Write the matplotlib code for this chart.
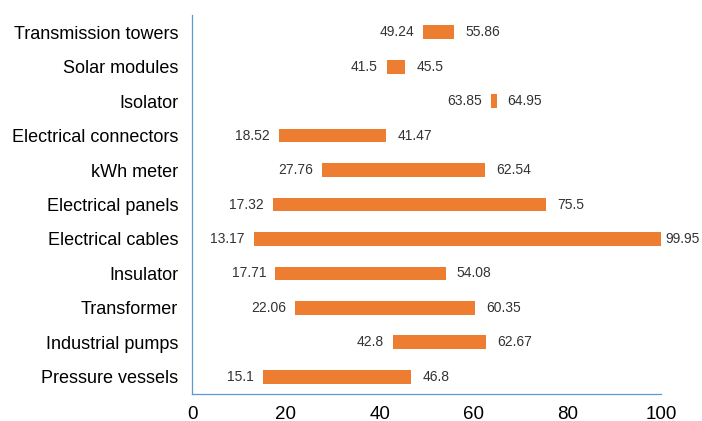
import matplotlib.pyplot as plt

categories = ['Pressure vessels', 'Industrial pumps', 'Transformer', 'Insulator',
              'Electrical cables', 'Electrical panels', 'kWh meter',
              'Electrical connectors', 'Isolator', 'Solar modules', 'Transmission towers']
low_values = [15.1, 42.8, 22.06, 17.71, 13.17, 17.32, 27.76, 18.52, 63.85, 41.5, 49.24]
high_values = [46.8, 62.67, 60.35, 54.08, 99.95, 75.5, 62.54, 41.47, 64.95, 45.5, 55.86]
low_labels = ['15.1', '42.8', '22.06', '17.71', '13.17', '17.32', '27.76', '18.52', '63.85', '41.5', '49.24']
high_labels = ['46.8', '62.67', '60.35', '54.08', '99.95', '75.5', '62.54', '41.47', '64.95', '45.5', '55.86']
x_ticks = [0, 20, 40, 60, 80, 100]

plt.rcParams['font.family'] = ['Liberation Sans', 'DejaVu Sans']

fig = plt.figure(figsize=(7.02, 4.21), dpi=100)
ax = fig.add_axes([192 / 702, 1 - 394 / 421, 469 / 702, 379 / 421])

ypos = list(range(len(categories)))
widths = [h - l for l, h in zip(low_values, high_values)]
ax.barh(ypos, widths, left=low_values, height=0.4, color='#ED7D31')

for y, lo, hi, ll, hl in zip(ypos, low_values, high_values, low_labels, high_labels):
    ax.annotate(ll, (lo, y), xytext=(-6.5, 0), textcoords='offset points',
                ha='right', va='center', fontsize=10, color='#333333')
    # label near the right edge is pulled in so it stays inside the figure
    off = 3 if hi > 95 else 8
    ax.annotate(hl, (hi, y), xytext=(off, 0), textcoords='offset points',
                ha='left', va='center', fontsize=10, color='#333333')

ax.set_xlim(0, 100)
ax.set_ylim(-0.5, len(categories) - 0.5)
ax.set_xticks(x_ticks)
ax.set_yticks(ypos)
ax.set_yticklabels(categories, fontsize=13)
ax.tick_params(axis='y', length=0, pad=10)
ax.tick_params(axis='x', length=0, pad=8.5, labelsize=13.5)

for side in ['top', 'right']:
    ax.spines[side].set_visible(False)
for side in ['left', 'bottom']:
    ax.spines[side].set_color('#5B9BD5')
    ax.spines[side].set_linewidth(0.9)

fig.savefig('out.png', dpi=100, facecolor='white')
